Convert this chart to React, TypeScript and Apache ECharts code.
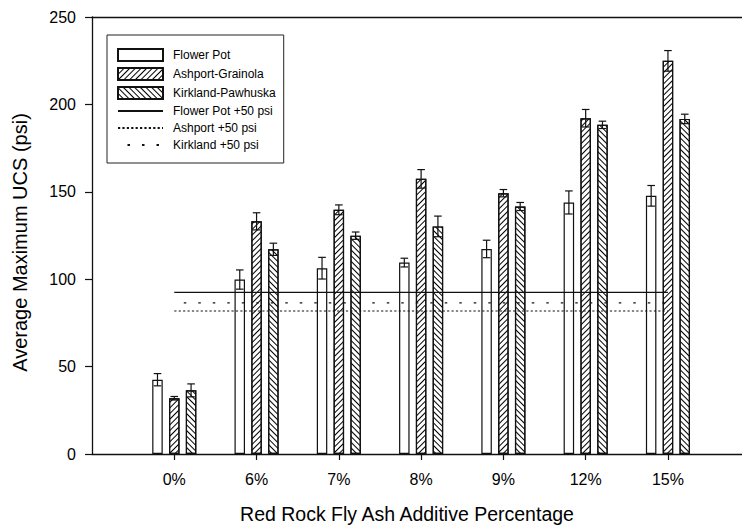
import React, { useEffect, useRef } from "react";
import * as echarts from "echarts";

const categories = ["0%", "6%", "7%", "8%", "9%", "12%", "15%"];
const categoryPositions = [1, 2, 3, 4, 5, 6, 7];
const flowerPot = [42.5, 99.8, 106.3, 109.5, 117.3, 143.9, 147.7];
const flowerPotErr = [3.5, 5.5, 6.2, 2.5, 5.0, 6.6, 5.9];
const ashport = [31.9, 133.1, 139.7, 157.4, 149.2, 192.1, 224.9];
const ashportErr = [1.0, 4.9, 2.8, 5.3, 2.1, 5.0, 5.9];
const kirkland = [36.4, 117.1, 124.9, 130.2, 141.6, 188.3, 191.7];
const kirklandErr = [3.7, 3.5, 2.1, 5.9, 2.3, 2.1, 2.7];
const refFlowerPot = 92.5;
const refAshport = 81.8;
const refKirkland = 86.5;
const refStart = 1;
const refEnd = 7;
const yTicks = [0, 50, 100, 150, 200, 250];

const FONT = "'Liberation Sans', Arial, sans-serif";
const BAR_WIDTH = 10.5;
const BAR_GAP_PX = 6.3;
const BAR_STEP = BAR_WIDTH + BAR_GAP_PX;

export default function App() {
  const ref = useRef<HTMLDivElement>(null);
  useEffect(() => {
    document.body.style.margin = "0";
    if (!ref.current) return;
    const chart = echarts.init(ref.current, undefined, { renderer: "svg" });

    const barSeries = (name: string, values: number[], decal: any) => ({
      name,
      type: "bar",
      barWidth: BAR_WIDTH,
      barGap: (BAR_GAP_PX / BAR_WIDTH) * 100 + "%",
      data: values.map((v, i) => [categoryPositions[i], v]),
      itemStyle: {
        color: "#fff",
        borderColor: "#111",
        borderWidth: 1.2,
        decal,
      },
      emphasis: { disabled: true },
      z: 2,
    });

    const errData: number[][] = [];
    [flowerPot, ashport, kirkland].forEach((vals, g) => {
      const errs = [flowerPotErr, ashportErr, kirklandErr][g];
      vals.forEach((v, i) => {
        errData.push([g, categoryPositions[i], v - errs[i], v + errs[i]]);
      });
    });

    const lineSeries = (name: string, value: number, type: any, dashOffset = 0) => ({
      name,
      type: "line",
      symbol: "none",
      data: [
        [refStart, value],
        [refEnd, value],
      ],
      itemStyle: { color: "rgba(0,0,0,0)" },
      lineStyle: { color: "#111", width: 1.2, type, dashOffset },
      emphasis: { disabled: true },
      z: 5,
    });

    const hatch = (rotation: number) => ({
      symbol: "rect",
      symbolSize: 1,
      dashArrayX: [1, 0],
      dashArrayY: [1, 2.2],
      rotation,
      color: "#000",
    });

    chart.setOption({
      animation: false,
      backgroundColor: "#fff",
      textStyle: { fontFamily: FONT, color: "#000" },
      grid: { left: 92, right: 0, top: 17, bottom: 73, containLabel: false },
      legend: {
        orient: "vertical",
        left: 107,
        top: 35,
        padding: [13, 8, 12, 10],
        borderColor: "#222",
        borderWidth: 1,
        itemWidth: 45,
        itemHeight: 12,
        itemGap: 5,
        selectedMode: false,
        textStyle: { fontFamily: FONT, fontSize: 12, color: "#000", padding: [0, 0, 0, 5] },
        data: [
          { name: "Flower Pot", icon: "rect" },
          { name: "Ashport-Grainola", icon: "rect" },
          { name: "Kirkland-Pawhuska", icon: "rect" },
          "Flower Pot +50 psi",
          "Ashport +50 psi",
          "Kirkland +50 psi",
        ],
      },
      xAxis: [
        {
          type: "value",
          min: 0,
          max: 7.9,
          name: "Red Rock Fly Ash Additive Percentage",
          nameLocation: "middle",
          nameGap: 50,
          nameTextStyle: { fontFamily: FONT, fontSize: 19.5, color: "#000", padding: [0, 20, 0, 0] },
          axisLine: { show: true, lineStyle: { color: "#111", width: 1.3 } },
          axisTick: { show: true, length: 6, customValues: categoryPositions, lineStyle: { color: "#111", width: 1.2 } },
          axisLabel: {
            customValues: categoryPositions,
            formatter: (v: number) => categories[Math.round(v) - 1] ?? "",
            fontFamily: FONT,
            fontSize: 16,
            color: "#000",
            margin: 17,
          },
          splitLine: { show: false },
        },
        {
          type: "value",
          position: "top",
          min: 0,
          max: 7.9,
          axisLine: { show: true, onZero: false, lineStyle: { color: "#111", width: 1.3 } },
          axisTick: { show: false },
          axisLabel: { show: false },
          splitLine: { show: false },
        },
      ],
      yAxis: {
        type: "value",
        min: yTicks[0],
        max: yTicks[yTicks.length - 1],
        interval: 50,
        name: "Average Maximum UCS (psi)",
        nameLocation: "middle",
        nameGap: 62,
        nameTextStyle: { fontFamily: FONT, fontSize: 20, color: "#000", padding: [0, 14, 0, 0] },
        axisLine: { show: true, lineStyle: { color: "#111", width: 1.3 } },
        axisTick: { show: true, length: 7, lineStyle: { color: "#111", width: 1.2 } },
        axisLabel: { fontFamily: FONT, fontSize: 16, color: "#000", margin: 16 },
        splitLine: { show: false },
      },
      series: [
        barSeries("Flower Pot", flowerPot, undefined),
        barSeries("Ashport-Grainola", ashport, hatch(-Math.PI / 4)),
        barSeries("Kirkland-Pawhuska", kirkland, hatch(Math.PI / 4)),
        {
          type: "custom",
          name: "errors",
          data: errData,
          encode: { x: 1, y: [2, 3] },
          z: 4,
          renderItem: (params: any, api: any) => {
            const g = api.value(0);
            const x = api.value(1);
            const lo = api.coord([x, api.value(2)]);
            const hi = api.coord([x, api.value(3)]);
            const cx = lo[0] + (g - 1) * BAR_STEP;
            const cap = 3.8;
            const style = { stroke: "#111", lineWidth: 1.2 };
            return {
              type: "group",
              children: [
                { type: "line", shape: { x1: cx, y1: lo[1], x2: cx, y2: hi[1] }, style },
                { type: "line", shape: { x1: cx - cap, y1: hi[1], x2: cx + cap, y2: hi[1] }, style },
                { type: "line", shape: { x1: cx - cap, y1: lo[1], x2: cx + cap, y2: lo[1] }, style },
              ],
            };
          },
        },
        lineSeries("Flower Pot +50 psi", refFlowerPot, "solid"),
        lineSeries("Ashport +50 psi", refAshport, [2.2, 2.2]),
        lineSeries("Kirkland +50 psi", refKirkland, [2.5, 12], 4.5),
      ],
    });
    return () => chart.dispose();
  }, []);
  return <div ref={ref} style={{ width: 742, height: 529 }} />;
}
